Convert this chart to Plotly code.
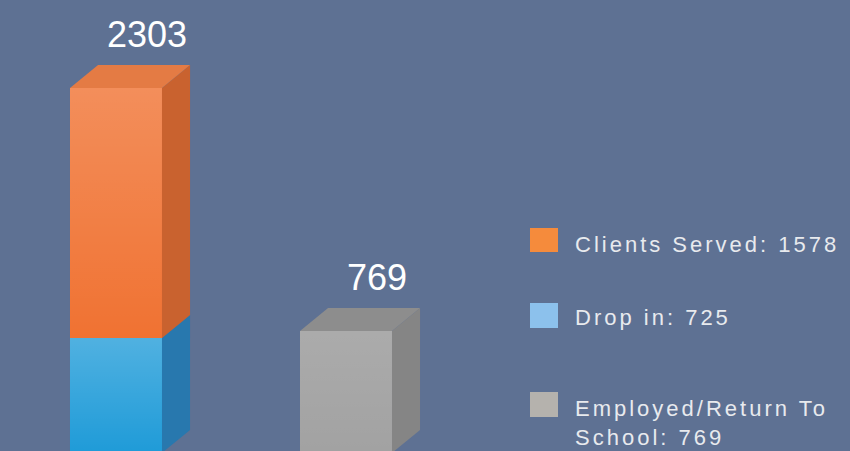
import plotly.graph_objects as go

# ---- data -------------------------------------------------------------
columns = [0, 1]                      # column positions on the x axis
drop_in = [725, 0]
clients_served = [1578, 0]
employed_return = [0, 769]

legend_labels = ["Clients Served", "Drop in", "Employed/Return To<br>School"]

# ---- styling ----------------------------------------------------------
BG = "rgb(94,113,147)"
BAR_W = 0.4          # front-face width (x units)
DX = 0.122           # 3-D depth, horizontal part (x units)
DY = 145             # 3-D depth, vertical part (y units)

face = {
    "drop":   dict(front="#1f9bd8", side="#2878ae", top="#3d9fd6", sheen=0.22),
    "client": dict(front="#f07232", side="#c9622f", top="#e47b44", sheen=0.20),
    "employ": dict(front="#a2a2a2", side="#858585", top="#8d8d8d", sheen=0.10),
}
legend_swatch = {"client": "#f58b3c", "drop": "#8cc1ec", "employ": "#b5b2ad"}

fig = go.Figure()


def poly(xs, ys, color, **kw):
    fig.add_trace(go.Scatter(
        x=xs + xs[:1], y=ys + ys[:1], mode="lines", fill="toself",
        fillcolor=color, line=dict(width=0), hoverinfo="skip",
        showlegend=False, **kw))


def block(c, base, h, key, name, with_top):
    st = face[key]
    xl, xr = c - BAR_W / 2, c + BAR_W / 2
    top = base + h
    # right side face
    poly([xr, xr + DX, xr + DX, xr], [base, base + DY, top + DY, top], st["side"])
    # top face
    if with_top:
        poly([xl, xl + DX, xr + DX, xr], [top, top + DY, top + DY, top], st["top"])
    # front face
    fig.add_trace(go.Bar(
        x=[c], y=[h], base=[base], width=BAR_W, name=name,
        marker=dict(color=st["front"], line=dict(width=0)),
        showlegend=False, hovertemplate=name + ": %{y}<extra></extra>"))
    # soft vertical sheen over the front face
    poly([xl, xr, xr, xl], [base, base, top, top], "rgba(0,0,0,0)",
         fillgradient=dict(type="vertical",
                           colorscale=[[0, "rgba(255,255,255,0)"],
                                       [1, f"rgba(255,255,255,{st['sheen']})"]]))


totals = []
for i, c in enumerate(columns):
    stack = []
    if drop_in[i]:
        stack.append((drop_in[i], "drop", "Drop in"))
    if clients_served[i]:
        stack.append((clients_served[i], "client", "Clients Served"))
    if employed_return[i]:
        stack.append((employed_return[i], "employ", "Employed/Return To School"))
    base = 0
    for j, (v, key, name) in enumerate(stack):
        block(c, base, v, key, name, with_top=(j == len(stack) - 1))
        base += v
    totals.append(base)

annotations = []
for c, t in zip(columns, totals):
    annotations.append(dict(
        x=c + DX, y=t + DY, xref="x", yref="y", text=str(t), showarrow=False,
        xanchor="center", yanchor="bottom", xshift=3, yshift=8,
        font=dict(family="Liberation Sans, Arial, sans-serif", size=36, color="white")))

# legend drawn as swatches + labels
legend_values = [clients_served[0], drop_in[0], employed_return[1]]
legend_keys = ["client", "drop", "employ"]
swatch_rows = [(228, 252), (303, 328), (392, 417)]   # pixel rows, top/bottom
label_rows = [244.5, 317.5, 422.5]                    # pixel centre of label block
W, H = 850, 451
shapes = []
for key, (t, b) in zip(legend_keys, swatch_rows):
    shapes.append(dict(type="rect", xref="paper", yref="paper",
                       x0=530 / W, x1=558 / W, y0=1 - b / H, y1=1 - t / H,
                       fillcolor=legend_swatch[key], line=dict(width=0)))
for lab, val, yc in zip(legend_labels, legend_values, label_rows):
    annotations.append(dict(
        x=573 / W, y=1 - yc / H, xref="paper", yref="paper",
        text=f'<span style="letter-spacing:3px">{lab}: {val}</span>'.replace(
            "<br>", '</span><br><span style="letter-spacing:3px">'),
        showarrow=False, xanchor="left", yanchor="middle", align="left",
        font=dict(family="Liberation Sans, Arial, sans-serif", size=22, color="#e8eaee")))

fig.update_layout(
    width=W, height=H, margin=dict(l=0, r=0, t=0, b=0),
    paper_bgcolor=BG, plot_bgcolor=BG, barmode="overlay", showlegend=False,
    xaxis=dict(range=[-0.5043, 3.1913], visible=False, fixedrange=True),
    yaxis=dict(range=[12, 2859], visible=False, fixedrange=True),
    shapes=shapes, annotations=annotations,
)

fig.write_html("out.html")
